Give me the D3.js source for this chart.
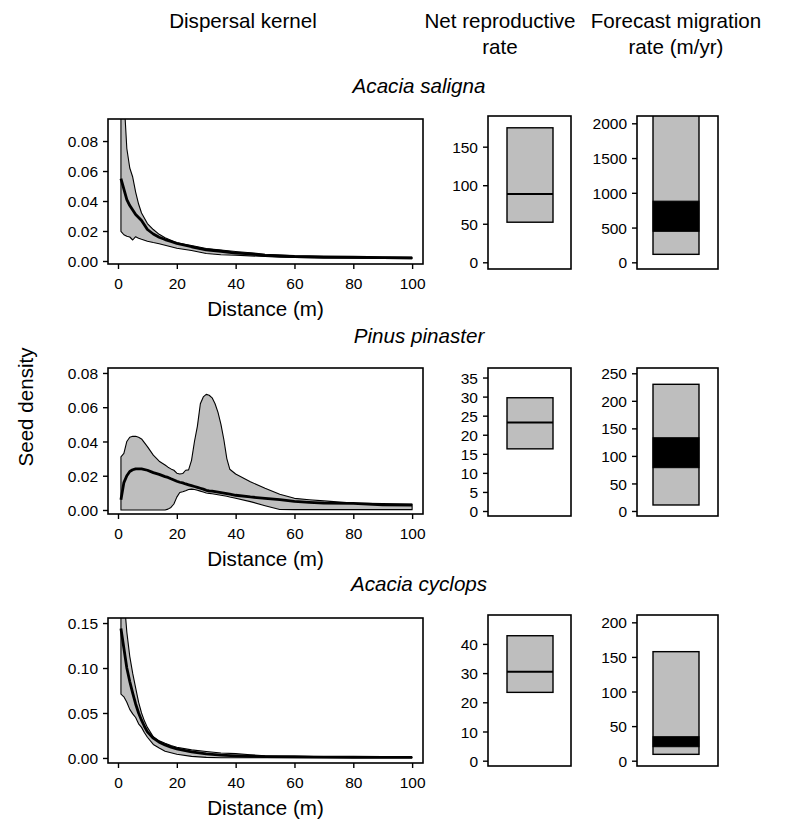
<!DOCTYPE html>
<html>
<head>
<meta charset="utf-8">
<script src="https://cdn.jsdelivr.net/npm/d3@7/dist/d3.min.js"></script>
<style>
  body { margin: 0; background: #fff; }
  svg text { font-family: "Liberation Sans", Arial, Helvetica, sans-serif; fill: #000; }
</style>
</head>
<body>
<svg id="chart" width="788" height="820"></svg>
<script>
// ---------------- DATA ----------------
const species = ["Acacia saligna", "Pinus pinaster", "Acacia cyclops"];
const columnHeaders = [["Dispersal kernel"], ["Net reproductive", "rate"], ["Forecast migration", "rate (m/yr)"]];
const xLabel = "Distance (m)";
const yLabel = "Seed density";

// Acacia saligna kernel
const salignaDist  = [1,2,3,4,5,6,7,8,10,12,14,16,18,20,25,30,35,40,45,50,55,60,70,80,90,100];
const salignaUpper = [0.14,0.11,0.075,0.062,0.056,0.046,0.038,0.032,0.025,0.021,0.0178,0.0155,0.0138,0.0122,0.0103,0.0083,0.0073,0.0063,0.0055,0.0045,0.004,0.0035,0.003,0.0028,0.0026,0.0024];
const salignaMean  = [0.055,0.048,0.041,0.037,0.034,0.031,0.029,0.027,0.021,0.018,0.0158,0.0143,0.013,0.0118,0.0095,0.0075,0.0065,0.0053,0.0047,0.0038,0.0034,0.003,0.0027,0.0025,0.0023,0.0021];
const salignaLower = [0.0198,0.0175,0.0165,0.016,0.014,0.0162,0.0152,0.0145,0.0132,0.0123,0.0115,0.0105,0.0095,0.0085,0.007,0.005,0.0042,0.0038,0.0034,0.003,0.0026,0.0023,0.0019,0.0018,0.0017,0.0016];

// Pinus pinaster kernel
const pinasterDist  = [1,2,3,4,5,6,7,8,10,12,14,16,17,18,19,20,21,22,23,24,25,26,27,28,29,30,31,32,33,34,35,36,37,38,40,45,50,55,60,65,70,80,90,100];
const pinasterUpper = [0.031,0.033,0.04,0.0425,0.043,0.043,0.0425,0.0415,0.037,0.032,0.0285,0.0263,0.025,0.024,0.0232,0.0215,0.021,0.0213,0.0232,0.0234,0.029,0.04,0.049,0.062,0.066,0.0675,0.067,0.0655,0.062,0.057,0.05,0.041,0.03,0.0238,0.021,0.0165,0.0127,0.0092,0.0068,0.006,0.0053,0.004,0.0037,0.0035];
const pinasterMean  = [0.006,0.016,0.02,0.0225,0.0235,0.024,0.024,0.024,0.0232,0.0218,0.0208,0.0195,0.019,0.0182,0.0175,0.0168,0.0162,0.0158,0.0152,0.0147,0.0142,0.0137,0.0132,0.0127,0.0122,0.0115,0.0112,0.011,0.0107,0.0104,0.0101,0.0098,0.0095,0.0092,0.0086,0.0076,0.0068,0.006,0.005,0.0045,0.004,0.0039,0.003,0.0029];
const pinasterLower = [0,0,0,0,0,0,0,0,0,0,0,0,0.0005,0.0015,0.0035,0.0075,0.0102,0.0106,0.0112,0.012,0.0122,0.012,0.0115,0.011,0.0105,0.0099,0.0097,0.0095,0.0092,0.0089,0.0086,0.0083,0.008,0.0076,0.0069,0.0049,0.0025,0.0003,0.0002,0.0002,0.0002,0.0002,0.0002,0.0002];

// Acacia cyclops kernel
const cyclopsDist  = [1,2,3,4,5,6,7,8,9,10,12,14,16,18,20,25,30,35,40,45,50,60,70,80,90,100];
const cyclopsUpper = [0.22,0.18,0.14,0.113,0.094,0.078,0.062,0.05,0.041,0.034,0.0235,0.019,0.0163,0.0138,0.012,0.009,0.0072,0.0055,0.0048,0.0035,0.0025,0.002,0.0013,0.0011,0.001,0.001];
const cyclopsMean  = [0.144,0.122,0.1,0.085,0.072,0.06,0.05,0.042,0.035,0.029,0.022,0.0175,0.0145,0.012,0.0102,0.0068,0.0045,0.0032,0.0024,0.0019,0.0015,0.0011,0.0009,0.0008,0.0007,0.0007];
const cyclopsLower = [0.071,0.068,0.062,0.054,0.049,0.045,0.038,0.034,0.028,0.023,0.015,0.011,0.0075,0.0058,0.0042,0.0018,0.0006,0.0003,0.0002,0.0002,0.0002,0.0002,0.0002,0.0002,0.0002,0.0002];

// Net reproductive rate (range box + median)
const netRepLow  = [52, 16.3, 23.4];
const netRepMed  = [88.5, 23.2, 30.5];
const netRepHigh = [174.5, 29.7, 42.8];

// Forecast migration rate (outer range + inner black band)
const migLow       = [115, 10.9, 9.2];
const migInnerLow  = [446, 78.6, 20.2];
const migInnerHigh = [880, 133, 34.7];
const migHigh      = [2600, 230, 157.6];

// Tick labels
const kernelXTicks = [0, 20, 40, 60, 80, 100];
const kernelYTicks = [[0, 0.02, 0.04, 0.06, 0.08], [0, 0.02, 0.04, 0.06, 0.08], [0, 0.05, 0.10, 0.15]];
const netRepTicks  = [[0, 50, 100, 150], [0, 5, 10, 15, 20, 25, 30, 35], [0, 10, 20, 30, 40]];
const migTicks     = [[0, 500, 1000, 1500, 2000], [0, 50, 100, 150, 200, 250], [0, 50, 100, 150, 200]];

// Axis limits (data space)
const kernelXLim = [-3.4, 103.7];
const kernelYLim = [[-0.002, 0.0947], [-0.00234, 0.0829], [-0.0056, 0.1556]];
const netRepYLim = [[-8.7, 189.8], [-1.31, 37.5], [-1.82, 49.9]];
const migYLim    = [[-96, 2105], [-9.1, 259.6], [-7.66, 210.6]];

// ---------------- LAYOUT ----------------
const svg = d3.select("#chart");
const FONT_TICK = 15.5, FONT_LAB = 20.6;
const kernelData = [
  {d: salignaDist, m: salignaMean, lo: salignaLower, hi: salignaUpper},
  {d: pinasterDist, m: pinasterMean, lo: pinasterLower, hi: pinasterUpper},
  {d: cyclopsDist, m: cyclopsMean, lo: cyclopsLower, hi: cyclopsUpper}
];
const kernelFrames = [[119, 264], [368, 514], [618, 763]];
const boxFrames    = [[116, 269], [368, 516], [615, 766]];
const kernelX = [108, 423];
const netX = [488, 571], netBox = [507, 553];
const migX = [637, 718], migBox = [653, 699];
const speciesBaselines = [93, 343, 591];

// column headers
const headerCx = [243, 500, 676];
columnHeaders.forEach((lines, i) => {
  lines.forEach((t, j) => {
    svg.append("text").attr("x", headerCx[i]).attr("y", 28 + j * 26)
      .attr("text-anchor", "middle").attr("font-size", FONT_LAB).text(t);
  });
});

// y label
svg.append("text").attr("transform", "translate(33,407) rotate(-90)")
  .attr("text-anchor", "middle").attr("font-size", FONT_LAB).text(yLabel);

let clipId = 0;
function clip(g, x0, y0, x1, y1) {
  const id = "clip" + (clipId++);
  svg.append("clipPath").attr("id", id).append("rect")
    .attr("x", x0).attr("y", y0).attr("width", x1 - x0).attr("height", y1 - y0);
  return "url(#" + id + ")";
}

function yAxis(y, ticks, xLeft, fmt) {
  const g = svg.append("g").attr("transform", `translate(${xLeft},0)`);
  g.call(d3.axisLeft(y).tickValues(ticks).tickFormat(fmt).tickSize(5).tickPadding(5));
  g.select(".domain").remove();
  g.selectAll("line").attr("stroke", "#000").attr("stroke-width", 1.4);
  g.selectAll("text").attr("font-size", FONT_TICK).attr("font-family", "Liberation Sans, Arial, sans-serif").attr("dy", "0.36em");
  return g;
}

species.forEach((sp, r) => {
  // species title
  svg.append("text").attr("x", 419).attr("y", speciesBaselines[r])
    .attr("text-anchor", "middle").attr("font-size", FONT_LAB).attr("font-style", "italic").text(sp);

  // ---- kernel panel ----
  const [ky0, ky1] = kernelFrames[r];
  const x = d3.scaleLinear().domain(kernelXLim).range(kernelX);
  const y = d3.scaleLinear().domain(kernelYLim[r]).range([ky1, ky0]);
  const kd = kernelData[r];
  const pts = kd.d.map((d, i) => ({d, m: kd.m[i], lo: kd.lo[i], hi: kd.hi[i]}));
  const cp = clip(svg, kernelX[0], ky0, kernelX[1], ky1);
  const gk = svg.append("g").attr("clip-path", cp);
  const poly = pts.map(p => [x(p.d), y(p.hi)]).concat(pts.slice().reverse().map(p => [x(p.d), y(p.lo)]));
  gk.append("path").attr("d", d3.line()(poly) + "Z")
    .attr("fill", "#bebebe").attr("stroke", "#000").attr("stroke-width", 1.1).attr("stroke-linejoin", "round");
  gk.append("path").datum(pts)
    .attr("d", d3.line().x(p => x(p.d)).y(p => y(p.m)))
    .attr("fill", "none").attr("stroke", "#000").attr("stroke-width", 2.8).attr("stroke-linejoin", "round");
  svg.append("rect").attr("x", kernelX[0]).attr("y", ky0)
    .attr("width", kernelX[1] - kernelX[0]).attr("height", ky1 - ky0)
    .attr("fill", "none").attr("stroke", "#000").attr("stroke-width", 1.6);
  yAxis(y, kernelYTicks[r], kernelX[0], d3.format(".2f"));
  const gx = svg.append("g").attr("transform", `translate(0,${ky1})`);
  gx.call(d3.axisBottom(x).tickValues(kernelXTicks).tickFormat(d3.format("d")).tickSize(5).tickPadding(9));
  gx.select(".domain").remove();
  gx.selectAll("line").attr("stroke", "#000").attr("stroke-width", 1.4);
  gx.selectAll("text").attr("font-size", FONT_TICK).attr("font-family", "Liberation Sans, Arial, sans-serif");
  svg.append("text").attr("x", (kernelX[0] + kernelX[1]) / 2).attr("y", ky1 + 52)
    .attr("text-anchor", "middle").attr("font-size", FONT_LAB).text(xLabel);

  // ---- net reproductive rate panel ----
  const [by0, by1] = boxFrames[r];
  const yn = d3.scaleLinear().domain(netRepYLim[r]).range([by1, by0]);
  const cpn = clip(svg, netX[0], by0, netX[1], by1);
  const gn = svg.append("g").attr("clip-path", cpn);
  gn.append("rect").attr("x", netBox[0]).attr("width", netBox[1] - netBox[0])
    .attr("y", yn(netRepHigh[r])).attr("height", yn(netRepLow[r]) - yn(netRepHigh[r]))
    .attr("fill", "#bebebe").attr("stroke", "#000").attr("stroke-width", 1.4);
  gn.append("line").attr("x1", netBox[0]).attr("x2", netBox[1])
    .attr("y1", yn(netRepMed[r])).attr("y2", yn(netRepMed[r]))
    .attr("stroke", "#000").attr("stroke-width", 2);
  svg.append("rect").attr("x", netX[0]).attr("y", by0).attr("width", netX[1] - netX[0]).attr("height", by1 - by0)
    .attr("fill", "none").attr("stroke", "#000").attr("stroke-width", 1.6);
  yAxis(yn, netRepTicks[r], netX[0], d3.format("d"));

  // ---- forecast migration rate panel ----
  const ym = d3.scaleLinear().domain(migYLim[r]).range([by1, by0]);
  const cpm = clip(svg, migX[0], by0, migX[1], by1);
  const gm = svg.append("g").attr("clip-path", cpm);
  gm.append("rect").attr("x", migBox[0]).attr("width", migBox[1] - migBox[0])
    .attr("y", ym(migHigh[r])).attr("height", ym(migLow[r]) - ym(migHigh[r]))
    .attr("fill", "#bebebe").attr("stroke", "#000").attr("stroke-width", 1.4);
  gm.append("rect").attr("x", migBox[0]).attr("width", migBox[1] - migBox[0])
    .attr("y", ym(migInnerHigh[r])).attr("height", ym(migInnerLow[r]) - ym(migInnerHigh[r]))
    .attr("fill", "#000").attr("stroke", "#000").attr("stroke-width", 1);
  svg.append("rect").attr("x", migX[0]).attr("y", by0).attr("width", migX[1] - migX[0]).attr("height", by1 - by0)
    .attr("fill", "none").attr("stroke", "#000").attr("stroke-width", 1.6);
  yAxis(ym, migTicks[r], migX[0], d3.format("d"));
});
</script>
</body>
</html>
